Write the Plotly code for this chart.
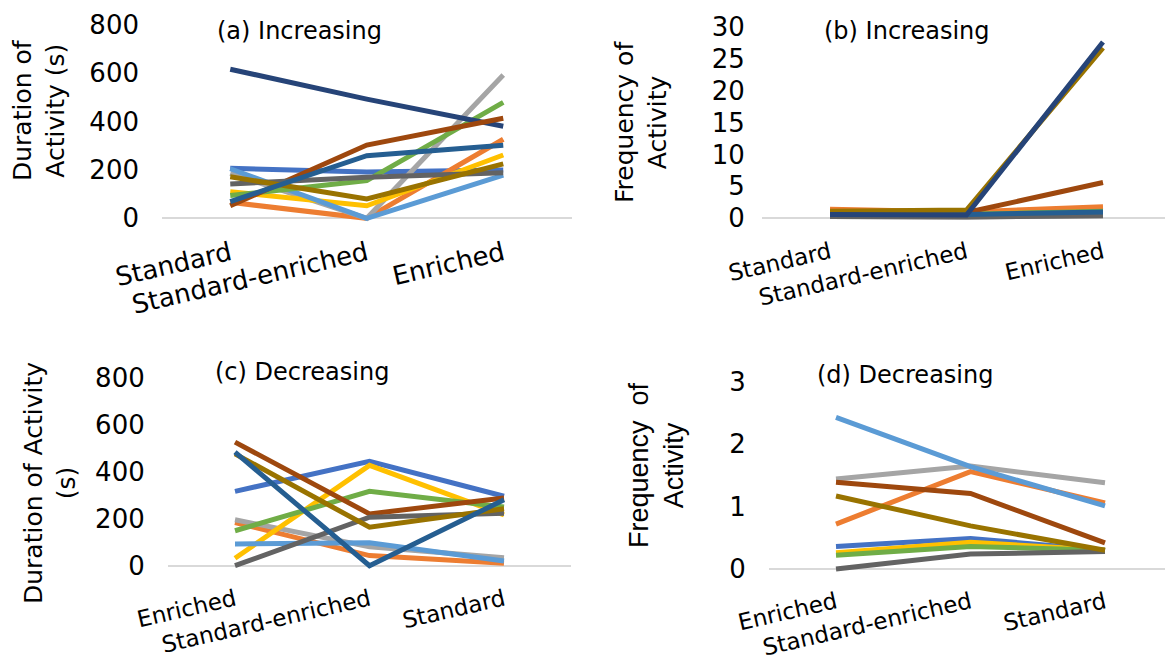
import plotly.graph_objects as go

W, H = 1165, 664

cats_inc = ["Standard", "Standard-enriched", "Enriched"]
cats_dec = ["Enriched", "Standard-enriched", "Standard"]

series_names = ["S1", "S2", "S3", "S4", "S5", "S6", "S7", "S8", "S9", "S10", "S11"]
colors = ["#4472C4", "#ED7D31", "#A5A5A5", "#FFC000", "#5B9BD5", "#70AD47",
          "#264478", "#9E480E", "#636363", "#997300", "#255E91"]

# (a) Duration, increasing
dur_inc = [
    [207, 192, 200],
    [66, 0, 327],
    [186, 0, 593],
    [110, 52, 262],
    [205, 0, 179],
    [94, 156, 480],
    [617, 493, 381],
    [52, 303, 414],
    [142, 170, 189],
    [172, 80, 225],
    [69, 259, 302],
]

# (b) Frequency, increasing
freq_inc = [
    [0.5, 0.4, 0.6],
    [1.4, 1.0, 1.8],
    [0.3, 0.2, 0.4],
    [0.8, 0.7, 0.9],
    [0.6, 0.5, 0.8],
    [0.7, 0.6, 1.1],
    [0.6, 0.5, 27.6],
    [0.9, 0.9, 5.6],
    [0.3, 0.2, 0.4],
    [1.1, 1.3, 26.7],
    [0.7, 0.6, 1.0],
]

# (c) Duration, decreasing
dur_dec = [
    [317, 445, 296],
    [184, 43, 10],
    [196, 81, 34],
    [32, 428, 217],
    [93, 98, 20],
    [149, 317, 250],
    None,
    [527, 221, 289],
    [0, 207, 224],
    [477, 164, 243],
    [484, 0, 281],
]

# (d) Frequency, decreasing
freq_dec = [
    [0.36, 0.49, 0.30],
    [0.72, 1.56, 1.06],
    [1.44, 1.65, 1.38],
    [0.26, 0.43, 0.30],
    [2.43, 1.64, 1.01],
    [0.22, 0.36, 0.30],
    None,
    [1.39, 1.21, 0.42],
    [0.00, 0.24, 0.28],
    [1.17, 0.69, 0.30],
    None,
]

FONT = "DejaVu Sans"
fig = go.Figure()


def add_panel(data, cats, xa, ya, order):
    for i in order:
        vals = data[i]
        if vals is None:
            continue
        fig.add_trace(go.Scatter(
            x=cats, y=vals, mode="lines", name=series_names[i],
            line=dict(color=colors[i], width=5),
            xaxis=xa, yaxis=ya, showlegend=False, hoverinfo="skip"))


base = list(range(11))
add_panel(dur_inc, cats_inc, "x", "y", base)
add_panel(freq_inc, cats_inc, "x2", "y2", [0, 1, 2, 3, 4, 5, 7, 8, 10, 9, 6])
add_panel(dur_dec, cats_dec, "x3", "y3", base)
add_panel(freq_dec, cats_dec, "x4", "y4", base)


def xdom(left, right):
    return [left / W, min(right, W) / W]


def ydom(top, bottom):
    return [1 - bottom / H, 1 - top / H]


ytickfont = dict(family=FONT, size=26, color="#000000")

def xaxis_cfg(left, w, fsize, standoff):
    right = left + 3 * w
    if right > W:
        rng = [-0.5, -0.5 + (W - left) / w]
    else:
        rng = [-0.5, 2.5]
    return dict(domain=xdom(left, right), range=rng, type="category",
                showgrid=False, zeroline=False, showline=False, ticks="",
                tickangle=-13, fixedrange=True,
                tickfont=dict(family=FONT, size=fsize, color="#000000"),
                ticklabelstandoff=standoff, automargin=False)


def yaxis_cfg(top_px, zero_px, vtop, lo, hi, dtick, anchor, standoff):
    ppu = (zero_px - top_px) / vtop
    bottom = zero_px - lo * ppu
    top = top_px - (hi - vtop) * ppu
    return dict(domain=ydom(top, bottom), range=[lo, hi], showgrid=False,
                zeroline=True, zerolinecolor="#D9D9D9", zerolinewidth=1.5,
                showline=False, ticks="", tickmode="linear", tick0=0, dtick=dtick,
                tickfont=ytickfont, anchor=anchor, fixedrange=True,
                ticklabelstandoff=standoff, automargin=False)


fig.update_layout(
    width=W, height=H, margin=dict(l=0, r=0, t=0, b=0, autoexpand=False),
    paper_bgcolor="white", plot_bgcolor="white",
    xaxis=dict(**xaxis_cfg(162, 136.5, 26, 11), anchor="y"),
    yaxis=yaxis_cfg(25, 218.3, 800, -15, 820, 200, "x", 22),
    xaxis2=dict(**xaxis_cfg(761.75, 136.5, 23, 12), anchor="y2"),
    yaxis2=yaxis_cfg(26.7, 218.3, 30, -0.6, 31, 5, "x2", 16),
    xaxis3=dict(**xaxis_cfg(167.75, 134.5, 23, 12), anchor="y3"),
    yaxis3=yaxis_cfg(378.1, 565.7, 800, -15, 820, 200, "x3", 22),
    xaxis4=dict(**xaxis_cfg(768.75, 134.5, 23, 12), anchor="y4"),
    yaxis4=yaxis_cfg(381.7, 569, 3, -0.05, 3.05, 1, "x4", 22),
)

titles = [
    ("(a) Increasing", 215, 31),
    ("(b) Increasing", 822, 31),
    ("(c) Decreasing", 213, 372),
    ("(d) Decreasing", 815, 375),
]
for txt, x, y in titles:
    fig.add_annotation(text=txt, xref="paper", yref="paper", x=x / W, y=1 - y / H,
                       xanchor="left", yanchor="middle", showarrow=False,
                       font=dict(family=FONT, size=24, color="#000000"))

ytitles = [
    ("Duration of<br>Activity (s)", 39, 110, FONT, 25),
    ("Frequency of<br>Activity", 641, 122, FONT, 25),
    ("Duration of Activity<br>(s)", 50, 483, FONT, 25),
    ("Frequency  of<br>Activity", 656, 465, "Liberation Sans", 27),
]
for txt, x, y, fam, sz in ytitles:
    fig.add_annotation(text=txt, xref="paper", yref="paper", x=x / W, y=1 - y / H,
                       xanchor="center", yanchor="middle", showarrow=False,
                       textangle=-90, align="center",
                       font=dict(family=fam, size=sz, color="#000000"))

fig.write_html("out.html")
